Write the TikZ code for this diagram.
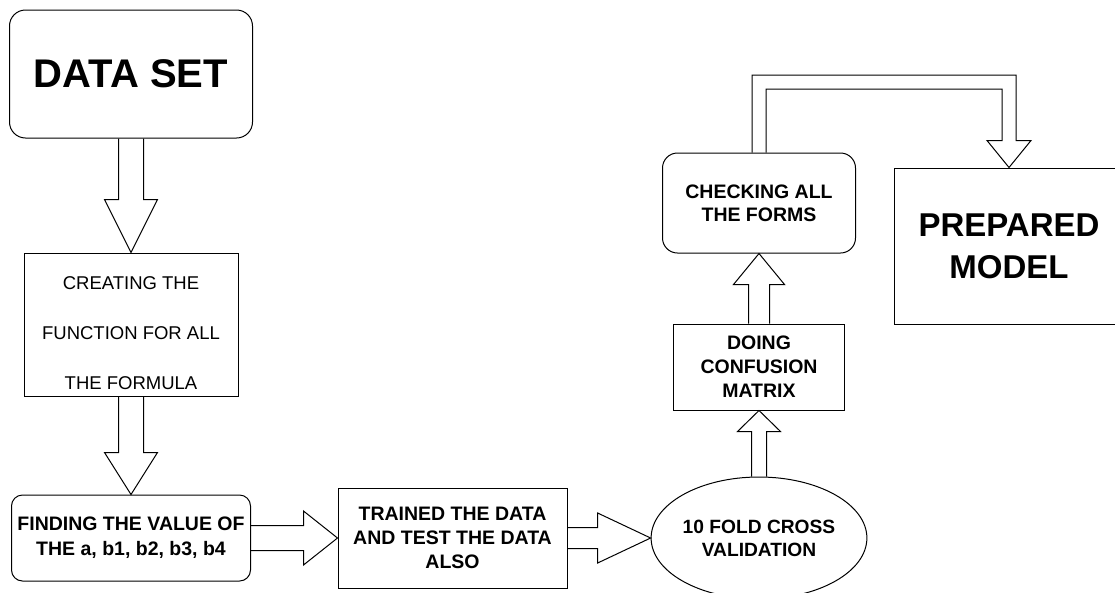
\documentclass[tikz,border=0pt]{standalone}
\usepackage{fontspec}
\setmainfont{Liberation Sans}
\usetikzlibrary{calc, shapes.geometric}

% hollow block arrow: from, to, shaft half width, head half width, head length
\newcommand{\hollowarrow}[5]{%
  \path ($(#2)!#5!(#1)$) coordinate (hb);
  \draw[hollow] ($(#1)!#3!90:(#2)$) -- ($(hb)!#3!-90:(#1)$) -- ($(hb)!#4!-90:(#1)$)
    -- (#2) -- ($(hb)!#4!90:(#1)$) -- ($(hb)!#3!90:(#1)$) -- ($(#1)!#3!-90:(#2)$);
}

\begin{document}
\begin{tikzpicture}[
        x=1pt, y=-1pt,
        box/.style={draw, rectangle, line width=1pt, align=center, inner sep=0pt},
        rbox/.style={box, rounded corners=16pt},
        hollow/.style={draw, line width=1pt, line join=miter},
        huge/.style={font=\fontsize{40}{46}\selectfont\bfseries},
        large/.style={font=\fontsize{33}{42}\selectfont\bfseries},
        plain/.style={font=\fontsize{18.5}{50}\selectfont},
        lbl/.style={font=\fontsize{19.5}{24}\selectfont\bfseries}
    ]
        \useasboundingbox (0,0) rectangle (1115,592);

        % left column
        \node[rbox, huge, minimum width=243pt, minimum height=128pt] (data) at (131,74) {DATA SET};
        \node[box, plain, minimum width=214pt, minimum height=143pt] (create) at (131,324.5)
            {\rule{0pt}{31pt}CREATING THE\\FUNCTION FOR ALL\\THE FORMULA};
        \node[rbox, lbl, rounded corners=11pt, minimum width=239pt, minimum height=86pt,
              font=\fontsize{19.5}{25}\selectfont\bfseries] (find) at (131,538)
            {FINDING THE VALUE OF\\THE a, b1, b2, b3, b4};

        % bottom row
        \node[box, lbl, minimum width=229pt, minimum height=100pt] (train) at (452.5,538)
            {TRAINED THE DATA\\AND TEST THE DATA\\ALSO};
        \node[ellipse, draw, line width=1pt, lbl, align=center, inner sep=0pt,
              minimum width=186pt, minimum height=122pt,
              font=\fontsize{19.2}{23}\selectfont\bfseries] (cv) at (759,538)
            {10 FOLD CROSS\\VALIDATION};

        % right column
        \node[box, lbl, minimum width=171pt, minimum height=86pt] (conf) at (759,367)
            {DOING\\CONFUSION\\MATRIX};
        \node[rbox, lbl, rounded corners=15pt, minimum width=193pt, minimum height=100pt,
              font=\fontsize{19.5}{23}\selectfont\bfseries] (check) at (759,203)
            {CHECKING ALL\\THE FORMS};
        \node[box, large, minimum width=230pt, minimum height=156pt] (prep) at (1009,246)
            {PREPARED\\MODEL};

        % block arrows
        \hollowarrow{data.south}{create.north}{12.5pt}{26.5pt}{53pt}
        \hollowarrow{create.south}{find.north}{12.5pt}{26.5pt}{42pt}
        \hollowarrow{find.east}{train.west}{12.5pt}{27pt}{34pt}
        \hollowarrow{train.east}{cv.west}{10.5pt}{25pt}{53pt}
        \hollowarrow{cv.north}{conf.south}{7.5pt}{21.5pt}{21pt}
        \hollowarrow{conf.north}{check.south}{10.5pt}{25.5pt}{31pt}

        % elbow arrow over the top
        \coordinate (elbowa) at (check.north |- 0,82);
        \coordinate (elbowb) at (prep.north |- 0,82);
        \coordinate (headbase) at ([yshift=27pt]prep.north);
        \draw[hollow] ([xshift=-7pt]check.north) -- ([shift={(-7pt,7pt)}]elbowa)
            -- ([shift={(7pt,7pt)}]elbowb) -- ([xshift=7pt]headbase)
            -- ([xshift=22pt]headbase) -- (prep.north) -- ([xshift=-22pt]headbase)
            -- ([xshift=-7pt]headbase) -- ([shift={(-7pt,-7pt)}]elbowb)
            -- ([shift={(7pt,-7pt)}]elbowa) -- ([xshift=7pt]check.north);

    \end{tikzpicture}
\end{document}
